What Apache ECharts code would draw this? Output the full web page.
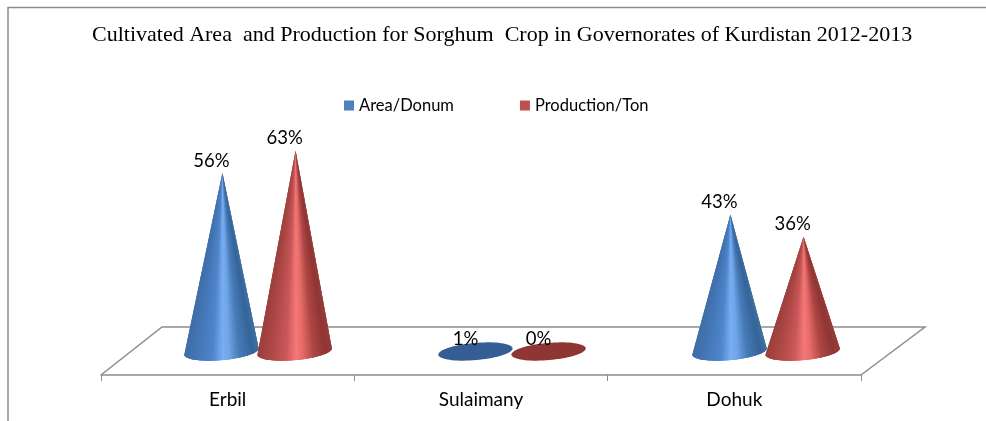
<!DOCTYPE html>
<html>
<head>
<meta charset="utf-8">
<style>html,body{margin:0;padding:0;background:#fff}#c{width:986px;height:421px}</style>
<script src="https://cdn.jsdelivr.net/npm/echarts@6/dist/echarts.min.js"></script>
</head>
<body>
<div id="c"></div>
<script>
const categories = ['Erbil', 'Sulaimany', 'Dohuk'];
const areaValues = [56, 1, 43];
const productionValues = [63, 0, 36];
const seriesNames = ['Area/Donum', 'Production/Ton'];
const chartTitle = 'Cultivated Area  and Production for Sorghum  Crop in Governorates of Kurdistan 2012-2013';

const labelFont = 'Lato, "Open Sans", sans-serif';
const flatBelow = 3;
const palette = {
  legend: ['#4f81bd', '#c0504d'],
  flat: ['#355f94', '#8f3532'],
  stops: [
    [[0,'#3f6ea8'],[.22,'#467abb'],[.38,'#4f86cb'],[.52,'#78aef2'],[.6,'#70a6e8'],[.74,'#487cb8'],[.92,'#34649a'],[1,'#41719f']],
    [[0,'#9c3f3c'],[.2,'#b04a47'],[.38,'#c9575a'],[.52,'#f47876'],[.6,'#e96e6b'],[.76,'#ad4644'],[.92,'#8f3634'],[1,'#983c3a']]
  ]
};

function shade(stops, t) {
  for (let i = 1; i < stops.length; i++) {
    if (t <= stops[i][0]) {
      const f = (t - stops[i - 1][0]) / (stops[i][0] - stops[i - 1][0]);
      return echarts.color.lerp(f, [stops[i - 1][1], stops[i][1]]);
    }
  }
  return stops[stops.length - 1][1];
}

function coneSeries(idx) {
  return function (params, api) {
    const value = api.value(1);
    const c = api.coord([api.value(0), 0]);
    const top = api.coord([api.value(0), value]);
    const band = api.size([1, 0])[0];
    const cx = c[0] + (idx === 0 ? -1 : 1) * band * 0.144;
    const cy = c[1];
    const rx = band * 0.147, ry = 8.6;
    const tilt = -5 * Math.PI / 180;
    const pt = function (a) {
      const x = rx * Math.cos(a), y = ry * Math.sin(a);
      return [cx + x * Math.cos(tilt) - y * Math.sin(tilt), cy + x * Math.sin(tilt) + y * Math.cos(tilt)];
    };
    const children = [];
    const flat = value < flatBelow;
    if (flat) {
      const pts = [];
      for (let i = 0; i < 72; i++) pts.push(pt(i / 72 * Math.PI * 2));
      children.push({ type: 'polygon', shape: { points: pts }, style: { fill: palette.flat[idx] } });
    } else {
      const tip = [cx + 1, top[1]];
      const n = 60;
      for (let i = 0; i < n; i++) {
        const p0 = pt(Math.PI - i / n * Math.PI);
        const p1 = pt(Math.PI - (i + 1) / n * Math.PI);
        const p2 = pt(Math.PI - Math.min(n, i + 3) / n * Math.PI);
        const t = ((p0[0] + p1[0]) / 2 - (cx - rx)) / (2 * rx);
        const col = shade(palette.stops[idx], Math.min(1, Math.max(0, t)));
        children.push({ type: 'polygon', shape: { points: [tip, p0, p1, p2] }, style: { fill: col } });
      }
    }
    children.push({
      type: 'text',
      style: {
        text: value + '%',
        x: cx - 10, y: (flat ? c[1] : top[1]) - 12.5,
        align: 'center', verticalAlign: 'middle',
        font: '18.5px ' + labelFont, fill: '#000'
      }
    });
    return { type: 'group', children: children };
  };
}

const chart = echarts.init(document.getElementById('c'), null, { renderer: 'canvas' });
const floorColor = '#8c8c8c';
chart.setOption({
  animation: false,
  backgroundColor: '#fff',
  title: {
    text: chartTitle, left: 87, top: 19,
    textStyle: { fontFamily: '"Liberation Serif", serif', fontWeight: 'normal', fontSize: 22, color: '#000' }
  },
  legend: {
    data: seriesNames, left: 339, top: 92,
    icon: 'rect', itemWidth: 10, itemHeight: 10, itemGap: 66,
    textStyle: { fontFamily: labelFont, fontSize: 16.5, color: '#000' }
  },
  grid: [
    { left: 101, width: 760, top: 130, height: 245 },
    { left: 131, width: 762, top: 128.5, height: 223 }
  ],
  xAxis: [
    {
      type: 'category', data: categories, gridIndex: 0,
      axisLine: { lineStyle: { color: floorColor, width: 1.5 } },
      axisTick: { show: true, alignWithLabel: false, length: 6, lineStyle: { color: floorColor } },
      axisLabel: { fontFamily: labelFont, fontSize: 19, color: '#000', margin: 15 },
      splitLine: { show: false }
    },
    { type: 'category', data: categories, gridIndex: 1, show: false }
  ],
  yAxis: [
    { type: 'value', gridIndex: 0, show: false, min: 0, max: 70 },
    { type: 'value', gridIndex: 1, show: false, min: 0, max: 70 }
  ],
  graphic: [
    { type: 'polyline', silent: true, z: 0, shape: { points: [[101, 375], [162, 327], [925, 327], [861, 375]] },
      style: { stroke: floorColor, lineWidth: 1.5, fill: null } },
    { type: 'polyline', silent: true, z: 0, shape: { points: [[8, 421], [8, 7.5], [986, 7.5]] },
      style: { stroke: '#8c8c8c', lineWidth: 1.5, fill: null } }
  ],
  series: [
    { name: seriesNames[0], type: 'custom', xAxisIndex: 1, yAxisIndex: 1, z: 3,
      itemStyle: { color: palette.legend[0] }, renderItem: coneSeries(0),
      encode: { x: 0, y: 1 },
      data: areaValues.map(function (v, i) { return [i, v]; }) },
    { name: seriesNames[1], type: 'custom', xAxisIndex: 1, yAxisIndex: 1, z: 4,
      itemStyle: { color: palette.legend[1] }, renderItem: coneSeries(1),
      encode: { x: 0, y: 1 },
      data: productionValues.map(function (v, i) { return [i, v]; }) }
  ]
});
</script>
</body>
</html>
